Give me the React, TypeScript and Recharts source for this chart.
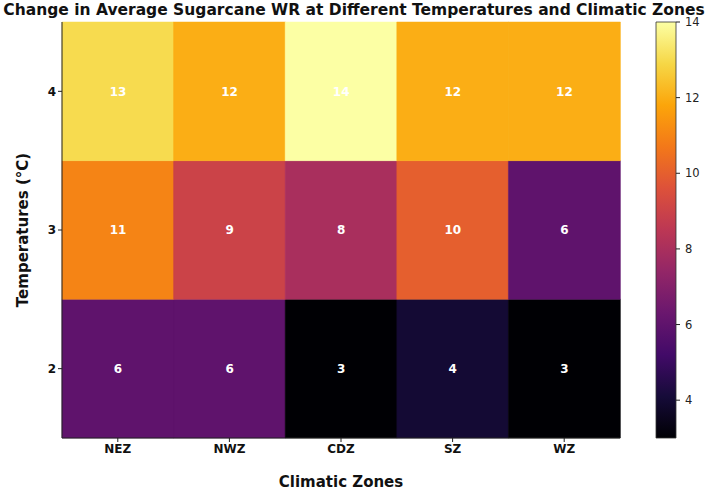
import { BarChart, Bar, XAxis, YAxis, Cell, LabelList } from 'recharts';

const zones = ['NEZ', 'NWZ', 'CDZ', 'SZ', 'WZ'];
const temps = [2, 3, 4];
const wr2 = [6, 6, 3, 4, 3];
const wr3 = [11, 9, 8, 10, 6];
const wr4 = [13, 12, 14, 12, 12];
const cbTicks = [4, 6, 8, 10, 12, 14];
const vMin = 3;
const vMax = 14;

// matplotlib inferno, sampled every 0.1
const inferno = [
  '#000004', '#160b39', '#420a68', '#6a176e', '#932667', '#bc3754',
  '#dd513a', '#f37819', '#fca50a', '#f6d746', '#fcffa4',
];

function hex(c: string) {
  return [1, 3, 5].map((i) => parseInt(c.slice(i, i + 2), 16));
}

function colorFor(v: number) {
  const t = Math.min(1, Math.max(0, (v - vMin) / (vMax - vMin))) * 10;
  const i = Math.min(9, Math.floor(t));
  const f = t - i;
  const a = hex(inferno[i]);
  const b = hex(inferno[i + 1]);
  const rgb = a.map((x, k) => Math.round(x + (b[k] - x) * f));
  return `rgb(${rgb.join(',')})`;
}

// each row spans one unit on the y axis
const span = 1;
const rows = [wr2, wr3, wr4];
const table = zones.map((z, i) => ({
  zone: z,
  t2: span, t3: span, t4: span,
  v2: wr2[i], v3: wr3[i], v4: wr4[i],
}));
const bar = [{ name: 'cb', range: [vMin, vMax] }];

const font = 'DejaVu Sans, sans-serif';
const tickStyle = { fontSize: 12, fontWeight: 700, fill: '#111', fontFamily: font };

export default function App() {
  return (
    <div style={{ position: 'absolute', left: 0, top: 0, width: 708, height: 492, background: '#fff', fontFamily: font }}>
      <div style={{ position: 'absolute', left: 0, top: 1, width: 708, textAlign: 'center', fontSize: 15.5, fontWeight: 700, color: '#111' }}>
        Change in Average Sugarcane WR at Different Temperatures and Climatic Zones
      </div>
      <div style={{ position: 'absolute', left: 0, top: 0 }}>
        <BarChart width={640} height={492} data={table} margin={{ top: 22, right: 20, left: 0, bottom: 0 }} barCategoryGap={0}>
          <XAxis
            dataKey="zone"
            height={54}
            tick={tickStyle}
            tickSize={4}
            stroke="#222"
            label={{ value: 'Climatic Zones', position: 'insideBottom', offset: 5, style: { fontSize: 15, fontWeight: 700, fill: '#111', fontFamily: font } }}
          />
          <XAxis xAxisId="top" dataKey="zone" orientation="top" height={0} tick={false} tickLine={false} stroke="#222" />
          <YAxis
            type="number"
            domain={[0, 3]}
            ticks={[0.5, 1.5, 2.5]}
            tickFormatter={(v: number) => String(temps[Math.floor(v)])}
            width={62}
            tick={tickStyle}
            tickSize={4}
            stroke="#222"
            label={{ value: 'Temperatures (°C)', angle: -90, position: 'insideLeft', offset: 23, style: { fontSize: 15, fontWeight: 700, fill: '#111', fontFamily: font, textAnchor: 'middle' } }}
          />
          <YAxis yAxisId="right" orientation="right" width={0} tick={false} tickLine={false} stroke="#222" />
          {['t2', 't3', 't4'].map((k, r) => (
            <Bar key={k} dataKey={k} stackId="a" isAnimationActive={false}>
              {table.map((d, i) => (
                <Cell key={i} fill={colorFor(rows[r][i])} stroke={colorFor(rows[r][i])} strokeWidth={0.5} />
              ))}
              <LabelList dataKey={'v' + k.slice(1)} position="center" fill="#fff" fontSize={12} fontWeight={700} fontFamily={font} />
            </Bar>
          ))}
        </BarChart>
      </div>
      <div style={{ position: 'absolute', left: 640, top: 0 }}>
        <BarChart width={68} height={492} data={bar} margin={{ top: 22, right: 0, left: 16, bottom: 54 }} barCategoryGap={0}>
          <defs>
            <linearGradient id="infernoGrad" x1="0" y1="1" x2="0" y2="0">
              {inferno.map((c, i) => (
                <stop key={i} offset={`${i * 10}%`} stopColor={c} />
              ))}
            </linearGradient>
          </defs>
          <XAxis dataKey="name" hide />
          <YAxis
            type="number"
            orientation="right"
            domain={[vMin, vMax]}
            ticks={cbTicks}
            width={32}
            axisLine={false}
            tickSize={4}
            tickMargin={5}
            stroke="#222"
            tick={{ fontSize: 11.5, fill: '#222', fontFamily: font }}
          />
          <Bar dataKey="range" fill="url(#infernoGrad)" stroke="#333" strokeWidth={0.8} isAnimationActive={false} />
        </BarChart>
      </div>
    </div>
  );
}
